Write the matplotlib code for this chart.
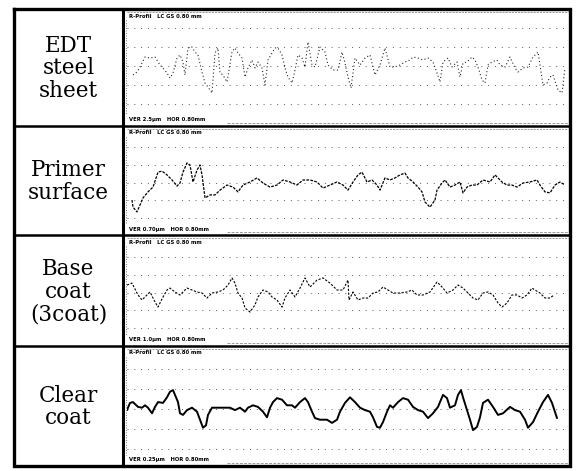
import matplotlib
matplotlib.use("Agg")
import matplotlib.pyplot as plt

# Roughness profiles of the paint layers.
# x: position along the trace in mm, h: profile height in um
row_labels = ["EDT\nsteel\nsheet", "Primer\nsurface", "Base\ncoat\n(3coat)", "Clear\ncoat"]
ver_um = [2.5, 0.70, 1.0, 0.25]          # vertical scale, um per grid division
ver_text = ["2.5", "0.70", "1.0", "0.25"]
hor_text = "0.80"

edt_x = [0.06, 0.10, 0.13, 0.18, 0.23, 0.28, 0.33, 0.36, 0.40, 0.43, 0.46, 0.50, 0.53, 0.56,
         0.58, 0.61, 0.65, 0.68, 0.71, 0.75, 0.78, 0.81, 0.85, 0.88, 0.91, 0.93, 0.96, 1.00,
         1.05, 1.08, 1.11, 1.15, 1.18, 1.21, 1.25, 1.28, 1.31, 1.35, 1.38, 1.41, 1.45, 1.48,
         1.51, 1.55, 1.58, 1.61, 1.65, 1.68, 1.71, 1.75, 1.78, 1.81, 1.85, 1.88, 1.93, 1.98,
         2.01, 2.06, 2.11, 2.15, 2.18, 2.21, 2.24, 2.28, 2.33, 2.38, 2.43, 2.48, 2.53, 2.58,
         2.63, 2.68, 2.73, 2.78, 2.83, 2.86, 2.91, 2.96, 3.01, 3.06, 3.10, 3.13, 3.16, 3.21,
         3.25, 3.30, 3.33, 3.36, 3.40, 3.45, 3.48, 3.51, 3.55, 3.58, 3.61, 3.65, 3.70, 3.73,
         3.78, 3.83, 3.88, 3.91, 3.96, 4.01, 4.06, 4.11, 4.16, 4.20, 4.23, 4.26, 4.31, 4.35,
         4.38]
edt_h = [-1.18, -0.79, -0.13, 1.18, 1.05, 1.18, 0.13, -0.26, -0.92, -1.58, -0.92, 1.05, 1.45, 0.53,
         -1.18, 2.37, 2.50, 1.84, 1.45, -0.79, -2.24, -2.76, -3.55, 1.71, 2.37, -0.92, -1.18, -2.11,
         1.84, 2.37, 1.71, 1.05, -1.45, -0.26, 0.79, -0.26, 0.53, -0.26, -2.50, 0.79, 1.71, 2.37,
         2.37, 1.45, -0.26, -1.45, -2.24, -0.53, 1.45, 1.05, -0.13, 3.16, 0.13, -0.13, 2.50, 1.84,
         0.13, -0.53, -0.53, 1.84, 0.39, -1.45, -2.89, 1.05, 0.13, 1.05, 1.45, -1.18, 0.13, 2.37,
         -0.13, -0.13, 0.13, 0.53, 0.79, 1.18, 1.05, 0.79, 1.05, 0.53, -0.92, -2.11, 0.53, 1.05,
         -0.13, 0.53, -1.45, 0.39, 0.53, 1.18, 0.79, -0.13, -1.84, -2.24, 0.13, 0.53, 0.79, 0.13,
         -0.13, 1.18, -0.26, -0.79, -0.26, -0.13, 1.18, 1.84, -2.50, -2.24, -1.45, -1.18, -3.16, -3.55,
         -0.26]

primer_x = [0.05, 0.06, 0.10, 0.16, 0.21, 0.26, 0.31, 0.35, 0.40, 0.45, 0.50, 0.53, 0.56, 0.60,
            0.63, 0.66, 0.70, 0.73, 0.75, 0.78, 0.83, 0.88, 0.93, 1.00, 1.06, 1.11, 1.16, 1.23,
            1.30, 1.36, 1.43, 1.50, 1.56, 1.63, 1.70, 1.76, 1.83, 1.90, 1.96, 2.03, 2.10, 2.16,
            2.21, 2.26, 2.31, 2.35, 2.40, 2.45, 2.50, 2.53, 2.58, 2.63, 2.68, 2.73, 2.78, 2.81,
            2.86, 2.91, 2.95, 2.98, 3.03, 3.08, 3.10, 3.15, 3.18, 3.23, 3.28, 3.33, 3.36, 3.40,
            3.45, 3.50, 3.56, 3.63, 3.68, 3.75, 3.80, 3.85, 3.90, 3.96, 4.03, 4.10, 4.13, 4.18,
            4.23, 4.28, 4.33, 4.38]
primer_h = [-0.69, -0.97, -1.16, -0.61, -0.37, -0.18, 0.41, 0.45, 0.30, 0.10, -0.14, -0.02, 0.41, 0.77,
            0.69, 0.02, 0.49, 0.69, 0.30, -0.61, -0.49, -0.49, -0.30, -0.10, -0.18, -0.37, -0.10, 0.02,
            0.18, -0.02, -0.18, -0.10, 0.10, 0.02, -0.10, 0.10, 0.10, 0.02, -0.22, -0.10, 0.02, -0.10,
            -0.30, 0.02, 0.30, 0.41, 0.02, 0.10, -0.10, -0.30, 0.18, 0.10, 0.18, 0.30, 0.37, 0.18,
            0.02, -0.18, -0.37, -0.77, -0.97, -0.69, -0.30, -0.02, 0.10, -0.18, -0.10, 0.02, -0.41, -0.18,
            -0.10, -0.10, 0.10, 0.02, 0.30, 0.02, -0.10, -0.10, -0.18, -0.02, 0.02, 0.10, -0.10, -0.37,
            -0.41, -0.10, 0.02, -0.10]

base_x = [0.00, 0.05, 0.11, 0.15, 0.23, 0.28, 0.31, 0.36, 0.40, 0.43, 0.48, 0.53, 0.56, 0.60,
          0.65, 0.70, 0.75, 0.80, 0.85, 0.91, 0.96, 1.01, 1.05, 1.08, 1.11, 1.15, 1.18, 1.23,
          1.28, 1.31, 1.36, 1.41, 1.45, 1.50, 1.55, 1.58, 1.63, 1.68, 1.73, 1.78, 1.83, 1.90,
          1.96, 2.03, 2.10, 2.16, 2.21, 2.22, 2.26, 2.31, 2.36, 2.41, 2.46, 2.51, 2.56, 2.61,
          2.66, 2.73, 2.80, 2.85, 2.90, 2.96, 3.03, 3.10, 3.15, 3.20, 3.26, 3.31, 3.36, 3.41,
          3.46, 3.51, 3.56, 3.61, 3.66, 3.71, 3.75, 3.80, 3.85, 3.90, 3.95, 4.00, 4.05, 4.08,
          4.13, 4.18, 4.23, 4.27]
base_h = [0.42, 0.53, -0.14, -0.42, 0.03, -0.53, -0.82, -0.25, 0.14, 0.25, 0.03, -0.14, 0.03, 0.25,
          0.14, 0.03, -0.03, -0.31, -0.03, 0.03, 0.14, 0.42, 0.82, 0.53, -0.03, -0.31, -0.87, -1.10,
          -0.70, -0.25, 0.14, 0.03, -0.25, -0.42, -0.82, -0.31, 0.14, -0.25, 0.25, 0.82, 0.31, 0.70,
          0.82, 0.53, 0.14, 0.14, 0.70, -0.42, 0.03, -0.42, -0.31, -0.31, -0.03, 0.03, 0.31, 0.14,
          -0.03, -0.03, 0.03, 0.14, -0.14, -0.14, 0.03, 0.59, 0.31, -0.03, 0.14, 0.42, 0.25, -0.03,
          -0.31, -0.42, -0.03, 0.03, -0.14, -0.59, -0.82, -0.59, -0.14, -0.14, -0.31, -0.14, 0.25, 0.14,
          -0.03, -0.31, -0.31, -0.14]

clear_x = [0.00, 0.03, 0.06, 0.11, 0.15, 0.18, 0.21, 0.25, 0.28, 0.31, 0.36, 0.40, 0.43, 0.46,
           0.48, 0.51, 0.53, 0.56, 0.60, 0.65, 0.70, 0.73, 0.76, 0.79, 0.81, 0.85, 0.90, 0.96,
           1.03, 1.08, 1.13, 1.18, 1.21, 1.26, 1.31, 1.36, 1.40, 1.43, 1.46, 1.50, 1.55, 1.60,
           1.65, 1.68, 1.73, 1.78, 1.81, 1.85, 1.88, 1.93, 2.00, 2.05, 2.10, 2.13, 2.18, 2.23,
           2.28, 2.33, 2.38, 2.43, 2.46, 2.50, 2.53, 2.56, 2.60, 2.63, 2.66, 2.71, 2.76, 2.81,
           2.86, 2.91, 2.96, 3.01, 3.06, 3.11, 3.16, 3.20, 3.23, 3.28, 3.31, 3.34, 3.36, 3.40,
           3.43, 3.46, 3.50, 3.53, 3.56, 3.61, 3.66, 3.71, 3.76, 3.83, 3.88, 3.93, 3.98, 4.01,
           4.06, 4.11, 4.16, 4.21, 4.25, 4.30]
clear_h = [-0.02, 0.07, 0.08, 0.02, 0.01, 0.04, 0.01, -0.06, 0.02, 0.08, 0.07, 0.14, 0.21, 0.23,
           0.17, 0.08, -0.06, -0.08, -0.02, 0.01, -0.04, -0.14, -0.24, -0.21, -0.08, 0.01, 0.01, 0.01,
           0.01, -0.02, 0.01, -0.04, 0.01, 0.04, 0.02, -0.04, -0.11, 0.01, 0.08, 0.13, 0.11, 0.04,
           0.04, 0.01, 0.08, 0.13, 0.08, -0.04, -0.12, -0.14, -0.14, -0.18, -0.14, -0.04, 0.07, 0.14,
           0.08, 0.01, -0.02, -0.04, -0.11, -0.23, -0.24, -0.17, -0.04, 0.04, 0.01, 0.08, 0.13, 0.11,
           0.02, -0.02, -0.04, -0.12, -0.06, 0.02, 0.17, 0.13, 0.01, 0.04, 0.17, 0.23, 0.14, -0.02,
           -0.14, -0.27, -0.23, -0.11, 0.07, 0.11, 0.02, -0.08, -0.06, 0.02, -0.02, -0.04, -0.14, -0.24,
           -0.17, -0.04, 0.08, 0.17, 0.07, -0.12]

profiles = [(edt_x, edt_h), (primer_x, primer_h), (base_x, base_h), (clear_x, clear_h)]
trace_styles = [
    dict(ls=(0, (1, 2.2)), lw=0.8, color="0.15"),
    dict(ls=(0, (2.2, 1.0)), lw=0.9, color="black"),
    dict(ls=(0, (2.0, 1.4)), lw=0.8, color="black"),
    dict(ls="-", lw=1.4, color="black"),
]

# ---- layout (pixels of the 579 x 471 sheet) ----
W, H = 579, 471
box_l, box_r = 14, 570
col_x = 123
row_edges = [9, 126, 235, 346, 466]
trace_l, trace_r = 127, 568
px_per_mm = 100.0
grid_c = [66, 182.5, 292.5, 408.5]     # pixel row of the zero line
grid_s = [19, 17.75, 17.75, 20]        # pixels per grid division

fig = plt.figure(figsize=(W / 100, H / 100), dpi=100)
frame = fig.add_axes([0, 0, 1, 1])
frame.set_xlim(0, W)
frame.set_ylim(H, 0)
frame.axis("off")

for i, (label, (xs, hs)) in enumerate(zip(row_labels, profiles)):
    top, bot = row_edges[i] + 1, row_edges[i + 1] - 1
    ax = fig.add_axes([trace_l / W, 1 - bot / H, (trace_r - trace_l) / W, (bot - top) / H])
    ax.set_facecolor("none")
    ax.axis("off")
    v = ver_um[i]
    ax.set_xlim(0, (trace_r - trace_l) / px_per_mm)
    ax.set_ylim((grid_c[i] - bot) / grid_s[i] * v, (grid_c[i] - top) / grid_s[i] * v)
    for k in range(-2, 3):
        ax.axhline(k * v, color="0.35", lw=0.7, ls=(0, (1, 6)))
    ax.plot(xs, hs, solid_capstyle="round", **trace_styles[i])

    # row label in the left column
    frame.text((box_l + col_x) / 2, (row_edges[i] + row_edges[i + 1]) / 2 + 1, label,
               ha="center", va="center", fontsize=15.5, family="DejaVu Serif",
               linespacing=1.05)
    # instrument header / footer of each trace
    frame.text(129, top + 6, "R-Profil   LC GS 0.80 mm", fontsize=3.8,
               fontweight="bold", va="center", ha="left")
    frame.text(129, bot - 5, f"VER {ver_text[i]}\u03bcm   HOR {hor_text}mm", fontsize=3.8,
               fontweight="bold", va="center", ha="left")
    # dotted scale bar on the left edge of the trace
    frame.plot([125.5, 125.5], [top + 10, bot - 10], color="0.3", lw=0.6, ls=(0, (1, 2)))
    # faint frame lines of the chart paper
    frame.plot([trace_l, trace_r], [top + 2, top + 2], color="0.45", lw=0.5, ls=(0, (3, 1.5)))
    frame.plot([trace_l + 100, trace_r], [bot - 2, bot - 2], color="0.45", lw=0.5, ls=(0, (4, 2)))

# table borders
frame.plot([box_l, box_r, box_r, box_l, box_l],
           [row_edges[0], row_edges[0], row_edges[-1], row_edges[-1], row_edges[0]],
           color="black", lw=2.4, solid_joinstyle="miter")
frame.plot([col_x, col_x], [row_edges[0], row_edges[-1]], color="black", lw=2.2)
for y in row_edges[1:-1]:
    frame.plot([box_l, box_r], [y, y], color="black", lw=1.8)

fig.savefig("out.png", dpi=100)
